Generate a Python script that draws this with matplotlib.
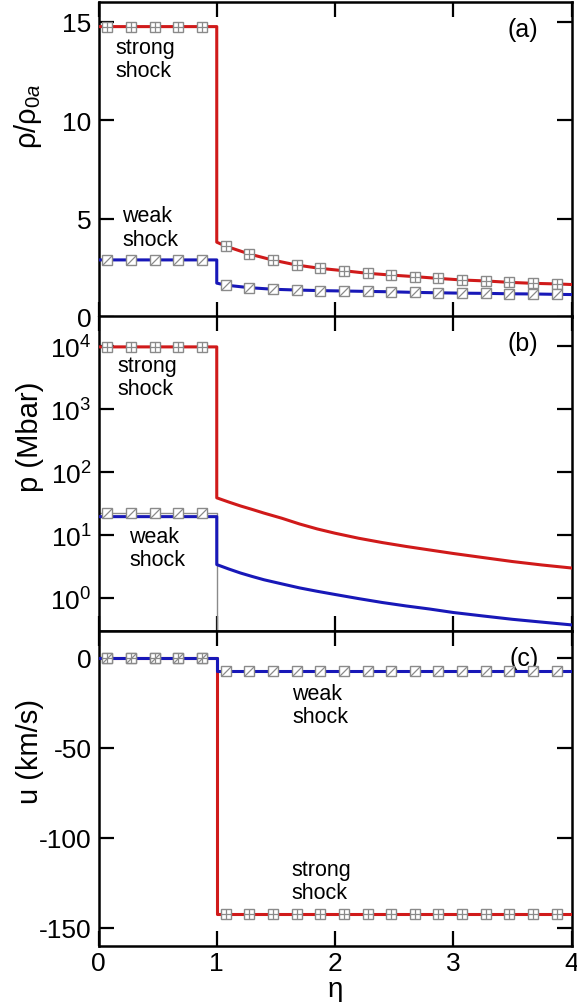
import numpy as np
import matplotlib
matplotlib.use("Agg")
import matplotlib.pyplot as plt
from matplotlib.path import Path
from matplotlib.ticker import NullLocator, FixedLocator

plt.rcParams['font.family'] = ['Liberation Sans', 'DejaVu Sans']
plt.rcParams['mathtext.fontset'] = 'custom'
plt.rcParams['mathtext.rm'] = 'Liberation Sans'
plt.rcParams['mathtext.it'] = 'Liberation Sans:italic'
plt.rcParams['axes.unicode_minus'] = False

# ---------------- data ----------------
# marker (simulation) positions in eta
eta_mk = [0.075, 0.275, 0.475, 0.675, 0.875, 1.075, 1.275, 1.475, 1.675, 1.875,
          2.075, 2.275, 2.475, 2.675, 2.875, 3.075, 3.275, 3.475, 3.675, 3.875]

# (a) density
rho_strong_mk = [14.75, 14.75, 14.75, 14.75, 14.75, 3.6, 3.2, 2.89, 2.64, 2.47,
                 2.35, 2.22, 2.13, 2.05, 1.96, 1.88, 1.83, 1.76, 1.71, 1.68]
rho_weak_mk = [2.9, 2.9, 2.9, 2.9, 2.9, 1.62, 1.49, 1.41, 1.37, 1.34,
               1.32, 1.30, 1.28, 1.25, 1.23, 1.21, 1.20, 1.18, 1.17, 1.15]
eta_rho_line = [0.0, 1.0, 1.0, 1.075, 1.275, 1.475, 1.675, 1.875, 2.075, 2.275, 2.475,
                2.675, 2.875, 3.075, 3.275, 3.475, 3.675, 3.875, 4.0]
rho_strong_line = [14.75, 14.75, 3.8, 3.6, 3.2, 2.89, 2.64, 2.47, 2.35, 2.22, 2.13,
                   2.05, 1.96, 1.88, 1.83, 1.76, 1.71, 1.68, 1.65]
rho_weak_line = [2.9, 2.9, 1.72, 1.62, 1.49, 1.41, 1.37, 1.34, 1.32, 1.30, 1.28,
                 1.25, 1.23, 1.21, 1.20, 1.18, 1.17, 1.15, 1.14]

# (b) pressure (Mbar)
eta_p_line = [0.0, 1.0, 1.0, 1.1, 1.2, 1.3, 1.4, 1.55, 1.7, 1.85, 2.0, 2.2, 2.4,
              2.6, 2.8, 3.0, 3.25, 3.5, 3.75, 4.0]
p_strong_line = [9.7e3, 9.7e3, 39.0, 33.5, 29.0, 25.5, 22.3, 18.5, 15.0, 12.5, 10.7,
                 8.9, 7.6, 6.6, 5.8, 5.1, 4.4, 3.8, 3.35, 3.0]
p_weak_line = [19.6, 19.6, 3.4, 2.9, 2.5, 2.2, 1.95, 1.68, 1.45, 1.28, 1.14,
               0.98, 0.85, 0.75, 0.67, 0.59, 0.52, 0.46, 0.415, 0.375]
eta_p_mk = [0.075, 0.275, 0.475, 0.675, 0.875]
p_strong_mk = [9.7e3, 9.7e3, 9.7e3, 9.7e3, 9.7e3]
p_weak_mk = [22.0, 22.0, 22.0, 22.0, 22.0]
eta_p_mkline = [0.0, 1.0, 1.0]
p_weak_mkline = [22.0, 22.0, 0.01]

# (c) velocity (km/s)
eta_u_line = [0.0, 1.0, 1.0, 4.0]
u_strong_line = [0.0, 0.0, -142.3, -142.3]
u_weak_line = [0.0, 0.0, -7.0, -7.0]
u_strong_mk = [0.0] * 5 + [-142.3] * 15
u_weak_mk = [0.0] * 5 + [-7.0] * 15

x_ticks = [0, 1, 2, 3, 4]

# ---------------- style ----------------
RED = '#d01a1a'
BLUE = '#1818b8'
GRAY = '#8a8a8a'
LW = 2.2
MS = 7.8
slash = Path([(-1, -1), (1, 1)], [Path.MOVETO, Path.LINETO])

fig = plt.figure(figsize=(5.77, 10.03), dpi=100)
L, W = 98.5 / 577, 473 / 577
H = 315 / 1003
axa = fig.add_axes([L, 1 - 318 / 1003, W, H])
axb = fig.add_axes([L, 1 - 632 / 1003, W, H])
axc = fig.add_axes([L, 1 - 947 / 1003, W, H])


def markers(ax, x, y, kind):
    ax.plot(x, y, ls='none', marker='s', ms=MS, mfc='white', mec=GRAY, mew=1.0, zorder=5)
    if kind == 'strong':
        ax.plot(x, y, ls='none', marker='+', ms=MS, mec=GRAY, mew=0.9, zorder=6)
    else:
        ax.plot(x, y, ls='none', marker=slash, ms=MS * 0.9, mec=GRAY, mew=0.9, zorder=6)


for ax in (axa, axb, axc):
    ax.set_xlim(0, 4)
    ax.xaxis.set_major_locator(FixedLocator(x_ticks))
    ax.tick_params(direction='in', which='both', top=True, right=True,
                   length=11, width=1.6, labelsize=19, pad=5)
    ax.tick_params(axis='x', pad=3.5)
    for s in ax.spines.values():
        s.set_linewidth(1.8)

# (a)
axa.plot(eta_rho_line, rho_strong_line, color=RED, lw=LW, zorder=3)
axa.plot(eta_rho_line, rho_weak_line, color=BLUE, lw=LW, zorder=3)
markers(axa, eta_mk, rho_strong_mk, 'strong')
markers(axa, eta_mk, rho_weak_mk, 'weak')
axa.set_ylim(0, 16)
axa.set_yticks([0, 5, 10, 15])
axa.set_xticklabels([])
axa.set_ylabel('ρ/ρ$_{0a}$', fontsize=21)
axa.yaxis.set_label_coords(-0.115, 0.64)
axa.text(0.14, 13.1, 'strong\nshock', fontsize=15.5, ha='left', va='center', linespacing=1.15)
axa.text(0.2, 4.55, 'weak\nshock', fontsize=15.5, ha='left', va='center', linespacing=1.15)
axa.text(0.93, 0.915, '(a)', transform=axa.transAxes, fontsize=18, ha='right', va='center')

# (b)
axb.set_yscale('log')
axb.plot(eta_p_mkline, p_weak_mkline, color=GRAY, lw=1.0, zorder=2)
axb.plot(eta_p_line, p_strong_line, color=RED, lw=LW, zorder=3)
axb.plot(eta_p_line, p_weak_line, color=BLUE, lw=LW, zorder=3)
markers(axb, eta_p_mk, p_strong_mk, 'strong')
markers(axb, eta_p_mk, p_weak_mk, 'weak')
axb.set_ylim(0.3, 3e4)
axb.yaxis.set_major_locator(FixedLocator([1, 10, 100, 1e3, 1e4]))
axb.yaxis.set_minor_locator(NullLocator())
axb.set_xticklabels([])
axb.set_ylabel('p (Mbar)', fontsize=21)
axb.yaxis.set_label_coords(-0.115, 0.62)
axb.text(0.16, 3200, 'strong\nshock', fontsize=15.5, ha='left', va='center', linespacing=1.15)
axb.text(0.26, 6.3, 'weak\nshock', fontsize=15.5, ha='left', va='center', linespacing=1.15)
axb.text(0.93, 0.915, '(b)', transform=axb.transAxes, fontsize=18, ha='right', va='center')

# (c)
axc.plot(eta_u_line, u_strong_line, color=RED, lw=LW, zorder=3)
axc.plot(eta_u_line, u_weak_line, color=BLUE, lw=LW, zorder=3.5)
markers(axc, eta_mk, u_strong_mk, 'strong')
markers(axc, eta_mk, u_weak_mk, 'weak')
axc.set_ylim(-160, 15)
axc.set_yticks([0, -50, -100, -150])
axc.set_ylabel('u (km/s)', fontsize=21)
axc.yaxis.set_label_coords(-0.115, 0.62)
axc.set_xlabel(r'$\mathrm{η}$', fontsize=20, labelpad=2)
axc.text(1.64, -26, 'weak\nshock', fontsize=15.5, ha='left', va='center', linespacing=1.15)
axc.text(1.63, -124, 'strong\nshock', fontsize=15.5, ha='left', va='center', linespacing=1.15)
axc.text(0.93, 0.915, '(c)', transform=axc.transAxes, fontsize=18, ha='right', va='center')

fig.savefig('out.png', dpi=100)
